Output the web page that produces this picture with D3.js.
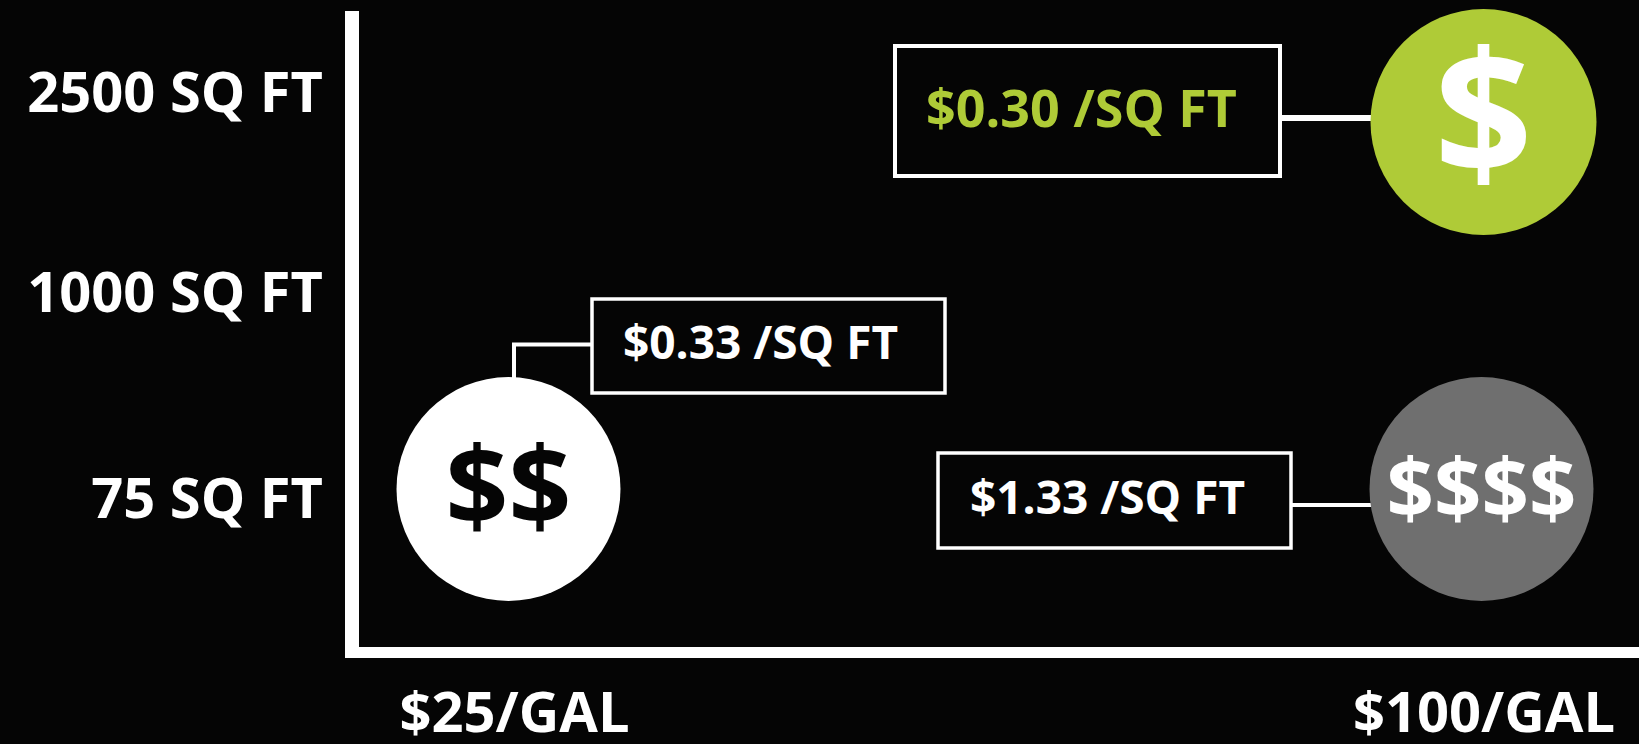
<!DOCTYPE html>
<html>
<head>
<meta charset="utf-8">
<script src="https://cdn.jsdelivr.net/npm/d3@7"></script>
<style>
  html, body { margin: 0; padding: 0; background: #050505; overflow: hidden; }
  text { font-family: "Open Sans", sans-serif; font-weight: 700; }
</style>
</head>
<body>
<script>
// chart values
const sizeLabels = ["75 SQ FT", "1000 SQ FT", "2500 SQ FT"];
const priceLabels = ["$25/GAL", "$100/GAL"];
const bubbleSizes = ["2500 SQ FT", "75 SQ FT", "75 SQ FT"];
const bubblePrices = ["$100/GAL", "$25/GAL", "$100/GAL"];
const bubbleSymbols = ["$", "$$", "$$$$"];
const bubbleCosts = ["$0.30 /SQ FT", "$0.33 /SQ FT", "$1.33 /SQ FT"];

const width = 1639, height = 744;

let svg = d3.select("body")
    .append("svg")
    .attr("width", width)
    .attr("height", height);

// scales
let ySize = d3.scalePoint().domain(sizeLabels).range([489, 122 + (489 - 122) * 0]);
let xPrice = d3.scalePoint().domain(priceLabels).range([508.5, 1482.5]);

// tick labels sit a little off the bubble centres
let yTick = d3.scaleOrdinal().domain(sizeLabels).range([517, 311, 111]);
let xTick = d3.scaleOrdinal().domain(priceLabels).range([514, 1483.5]);

// appearance of each bubble and its callout
const bubbleStyle = [
    {fill: "#afcb37", glyph: "#ffffff", cost: "#afcb37", dx: 1, r: 113,
     symbolSize: 172, symbolWidth: 78, symbolBase: 175,
     box: [895, 46, 385, 130], boxStroke: 4, link: [[1280, 118], [1372, 118]], linkWidth: 6,
     costSize: 52, costX: 926, costWidth: 323, costBase: 127},
    {fill: "#ffffff", glyph: "#050505", cost: "#ffffff", dx: 0, r: 112,
     symbolSize: 110, symbolWidth: 113, symbolBase: 525,
     box: [592, 299, 353, 94], boxStroke: 3.5, link: [[592, 344.5], [514, 344.5], [514, 378]], linkWidth: 4,
     costSize: 46, costX: 623, costWidth: 291, costBase: 359},
    {fill: "#6f6f6f", glyph: "#ffffff", cost: "#ffffff", dx: -1, r: 112,
     symbolSize: 83, symbolWidth: 173, symbolBase: 518,
     box: [938, 453, 353, 95], boxStroke: 3.5, link: [[1291, 505], [1372, 505]], linkWidth: 4,
     costSize: 46, costX: 970, costWidth: 288, costBase: 514}
];

// axes
let yAxis = svg.append("g")
    .attr("transform", "translate(323,0)")
    .call(d3.axisLeft(yTick).tickSize(0).tickPadding(0));
yAxis.select(".domain").remove();
yAxis.selectAll("text")
    .attr("dy", 0)
    .attr("fill", "#ffffff")
    .style("font-size", "56px");

let xAxis = svg.append("g")
    .attr("transform", "translate(0,732)")
    .call(d3.axisBottom(xTick).tickSize(0).tickPadding(0));
xAxis.select(".domain").remove();
xAxis.selectAll("text")
    .attr("y", 0)
    .attr("dy", 0)
    .attr("fill", "#ffffff")
    .style("font-size", "56px");

svg.append("rect")
    .attr("x", 345).attr("y", 11)
    .attr("width", 14).attr("height", 647)
    .attr("fill", "#ffffff");
svg.append("rect")
    .attr("x", 345).attr("y", 647)
    .attr("width", width - 345).attr("height", 11)
    .attr("fill", "#ffffff");

// bubbles with callouts
bubbleStyle.forEach(function(s, i) {
    let g = svg.append("g");
    let cx = xPrice(bubblePrices[i]) + s.dx;
    let cy = ySize(bubbleSizes[i]);

    g.append("path")
        .attr("d", d3.line()(s.link))
        .attr("fill", "none")
        .attr("stroke", "#ffffff")
        .attr("stroke-width", s.linkWidth);

    g.append("circle")
        .attr("cx", cx).attr("cy", cy).attr("r", s.r)
        .attr("fill", s.fill);

    g.append("text")
        .attr("x", cx).attr("y", s.symbolBase)
        .attr("text-anchor", "middle")
        .attr("fill", s.glyph)
        .style("font-size", s.symbolSize + "px")
        .text(bubbleSymbols[i]);

    g.append("rect")
        .attr("x", s.box[0]).attr("y", s.box[1])
        .attr("width", s.box[2]).attr("height", s.box[3])
        .attr("fill", "#050505")
        .attr("stroke", "#ffffff")
        .attr("stroke-width", s.boxStroke);

    g.append("text")
        .attr("x", s.costX).attr("y", s.costBase)
        .attr("fill", s.cost)
        .style("font-size", s.costSize + "px")
        .text(bubbleCosts[i]);
});
</script>
</body>
</html>
